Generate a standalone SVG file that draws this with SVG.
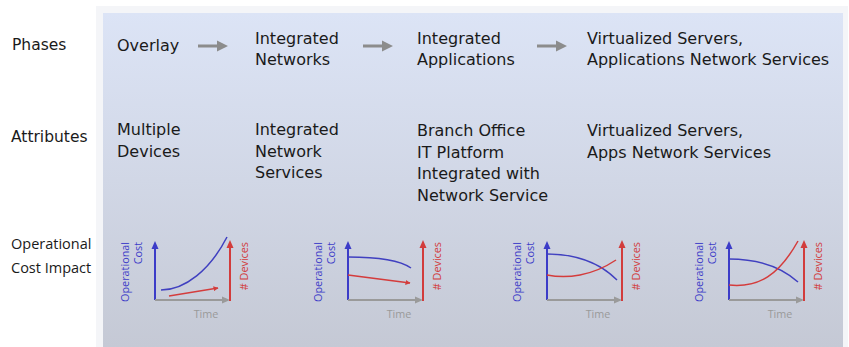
<svg xmlns="http://www.w3.org/2000/svg" width="849" height="347" viewBox="0 0 849 347">
<style>
.lbl{font-family:"DejaVu Sans",sans-serif;font-size:15.5px;fill:#1a1a1a}
.lbl2{font-family:"Open Sans",sans-serif;font-size:14.5px;fill:#1a1a1a}
.col{font-family:"DejaVu Sans",sans-serif;font-size:16px;fill:#1a1a1a}
.ax{font-family:"Open Sans",sans-serif;font-size:10.8px}
.b{fill:#3c3cc8}
.r{fill:#d23c3c}
.g{fill:#9a9a9a}
.bl{stroke:#3c3cc8;stroke-width:2;fill:none}
.rl{stroke:#d23c3c;stroke-width:2;fill:none}
.gl{stroke:#9a9a9a;stroke-width:2;fill:none}
.bc{stroke:#4040c0;stroke-width:1.5;fill:none}
.rc{stroke:#d43c3c;stroke-width:1.5;fill:none}
.ph{fill:#8c8c8c}
</style>
<defs>
<linearGradient id="pg" x1="0" y1="0" x2="0" y2="1">
<stop offset="0" stop-color="#dce4f6"/>
<stop offset="0.5" stop-color="#d1d7e6"/>
<stop offset="1" stop-color="#c5c9d5"/>
</linearGradient>
<marker id="ra" viewBox="0 0 10 10" refX="9" refY="5" markerWidth="5" markerHeight="5" orient="auto" markerUnits="userSpaceOnUse">
<path d="M0,0 L10,5 L0,10 z" fill="#d23c3c"/>
</marker>
<g id="axes">
<line class="bl" x1="0" y1="0" x2="0" y2="-52"/>
<path class="b" d="M-3.5,-51 L0,-59 L3.5,-51 z"/>
<line class="gl" x1="0" y1="0" x2="68" y2="0"/>
<path class="g" d="M67,-3.5 L75,0 L67,3.5 z"/>
<line class="rl" x1="75" y1="1" x2="75" y2="-53"/>
<path class="r" d="M71.5,-52 L75,-60 L78.5,-52 z"/>
<text class="ax b" text-anchor="end" transform="translate(-26,-58) rotate(-90)">Operational</text>
<text class="ax b" text-anchor="end" transform="translate(-13,-58) rotate(-90)">Cost</text>
<text class="ax r" text-anchor="end" transform="translate(93,-58) rotate(-90)"># Devices</text>
<text class="ax g" text-anchor="middle" x="51" y="18">Time</text>
</g>
</defs>
<rect width="849" height="347" fill="#ffffff"/>
<rect x="96" y="6" width="752" height="341" fill="#f4f5f8"/>
<rect x="103" y="13" width="740" height="334" fill="url(#pg)"/>

<g id="row-labels">
<text class="lbl" x="12" y="50">Phases</text>
<text class="lbl" x="11" y="142">Attributes</text>
<text class="lbl2" x="11" y="249">Operational</text>
<text class="lbl2" x="11" y="273">Cost Impact</text>
</g>

<g id="phase-overlay"><text class="col" x="117" y="51">Overlay</text></g>
<g id="phase-integrated-networks"><text class="col" x="255" y="44">Integrated</text><text class="col" x="255" y="65">Networks</text></g>
<g id="phase-integrated-applications"><text class="col" x="417" y="44">Integrated</text><text class="col" x="417" y="65">Applications</text></g>
<g id="phase-virtualized"><text class="col" x="587" y="44">Virtualized Servers,</text><text class="col" x="587" y="65">Applications Network Services</text></g>

<g id="connectors">
<path class="ph" d="M198,44.5 H217 V40.5 L228,46 L217,51.5 V47.5 H198 z"/>
<path class="ph" d="M363,44.5 H382 V40.5 L393,46 L382,51.5 V47.5 H363 z"/>
<path class="ph" d="M537,44.5 H556 V40.5 L567,46 L556,51.5 V47.5 H537 z"/>
</g>

<g id="attr-1"><text class="col" x="117" y="135">Multiple</text><text class="col" x="117" y="156.5">Devices</text></g>
<g id="attr-2"><text class="col" x="255" y="135">Integrated</text><text class="col" x="255" y="156.5">Network</text><text class="col" x="255" y="178">Services</text></g>
<g id="attr-3"><text class="col" x="417" y="136">Branch Office</text><text class="col" x="417" y="157.5">IT Platform</text><text class="col" x="417" y="179">Integrated with</text><text class="col" x="417" y="200.5">Network Service</text></g>
<g id="attr-4"><text class="col" x="587" y="136">Virtualized Servers,</text><text class="col" x="587" y="157.5">Apps Network Services</text></g>

<g id="chart-1" transform="translate(155,300)">
<use href="#axes"/>
<path class="bc" d="M6,-10 C30,-10 55,-30 72,-63"/>
<path class="rc" d="M14,-4 L63,-12" marker-end="url(#ra)"/>
</g>
<g id="chart-2" transform="translate(348,300)">
<use href="#axes"/>
<path class="bc" d="M0,-43 C25,-43 50,-41 63,-32"/>
<path class="rc" d="M0,-25 L62,-17" marker-end="url(#ra)"/>
</g>
<g id="chart-3" transform="translate(547,300)">
<use href="#axes"/>
<path class="bc" d="M0,-46 C25,-46 50,-40 70,-20"/>
<path class="rc" d="M0,-25 C20,-21 45,-24 69,-40"/>
</g>
<g id="chart-4" transform="translate(729,300)">
<use href="#axes"/>
<path class="bc" d="M0,-41 C25,-41 50,-35 69,-18"/>
<path class="rc" d="M0,-15 C30,-12 50,-25 69,-59"/>
</g>
</svg>
